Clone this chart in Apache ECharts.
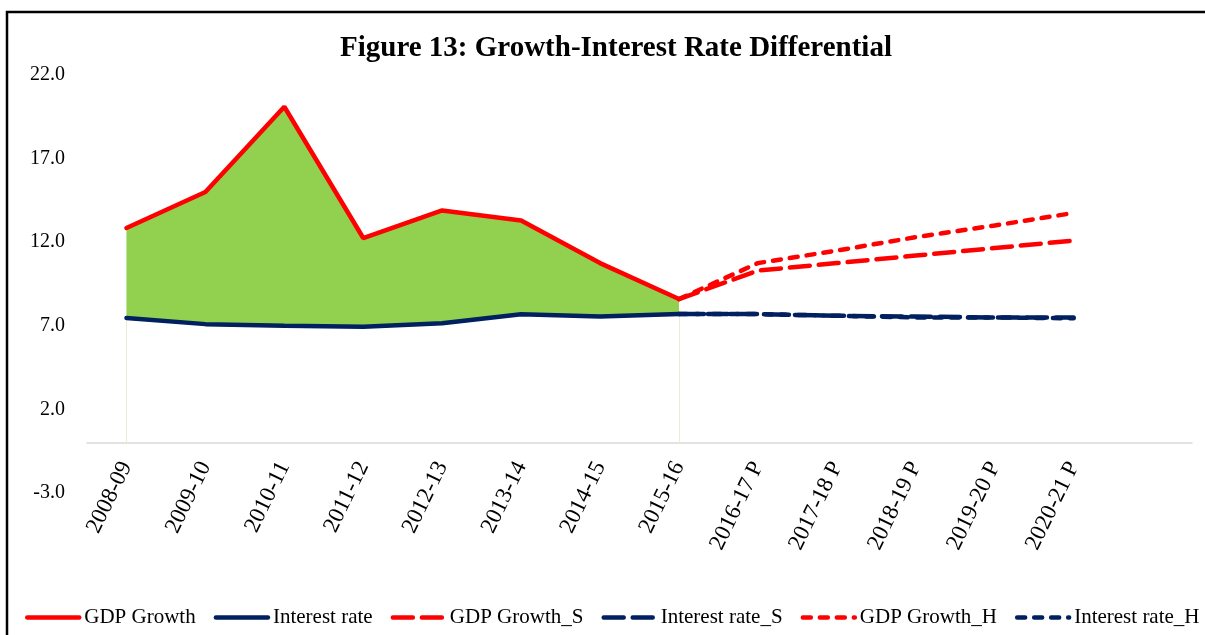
<!DOCTYPE html>
<html>
<head>
<meta charset="utf-8">
<title>Figure 13: Growth-Interest Rate Differential</title>
<script src="https://cdn.jsdelivr.net/npm/echarts@6/dist/echarts.min.js"></script>
<style>
    html, body { margin: 0; padding: 0; background: #fff; }
    #chart { width: 1205px; height: 635px; }
</style>
</head>
<body>
<div id="chart"></div>
<script>
// 数据
const years = ['2008-09', '2009-10', '2010-11', '2011-12', '2012-13', '2013-14', '2014-15',
    '2015-16', '2016-17 P', '2017-18 P', '2018-19 P', '2019-20 P', '2020-21 P', ''];
const gdpGrowth = [12.85, 15.0, 20.1, 12.25, 13.9, 13.3, 10.75, 8.6];
const interestRate = [7.47, 7.1, 7.0, 6.95, 7.15, 7.69, 7.55, 7.7];
const gdpGrowthS = [8.6, 10.3, 10.75, 11.2, 11.65, 12.1];
const interestRateS = [7.7, 7.7, 7.6, 7.55, 7.5, 7.5];
const gdpGrowthH = [8.6, 10.75, 11.5, 12.3, 13.0, 13.75];
const interestRateH = [7.7, 7.7, 7.6, 7.5, 7.5, 7.45];
const yTicks = [-3, 2, 7, 12, 17, 22];

const RED = '#ff0000';
const NAVY = '#002060';
const GREEN = '#92d050';
const FONT = '"Liberation Serif", "Times New Roman", serif';

const LONG_DASH = [20, 9];
const SHORT_DASH = [8, 9];

// 历史序列补齐到全部类目, 预测序列从2015-16开始
function history(arr) {
    return years.map((y, i) => i < arr.length ? arr[i] : null);
}
function projection(arr) {
    const start = gdpGrowth.length - 1;
    return years.map((y, i) => (i >= start && i - start < arr.length) ? arr[i - start] : null);
}

const diff = gdpGrowth.map((v, i) => +(v - interestRate[i]).toFixed(2));

function lineSeries(name, data, color, type) {
    return {
        name: name,
        type: 'line',
        data: data,
        symbol: 'none',
        connectNulls: false,
        lineStyle: { color: color, width: 4.5, type: type, cap: 'round' },
        itemStyle: { color: color },
        z: 5
    };
}

// 图例项: 只画线, 不画圆点
function legendItem(name, color, type) {
    return {
        name: name,
        itemStyle: { opacity: 0 },
        lineStyle: { color: color, width: 4.5, type: type, cap: 'round', opacity: 1 }
    };
}

const chart = echarts.init(document.getElementById('chart'));

const option = {
    animation: false,
    backgroundColor: '#fff',
    graphic: [{
        type: 'rect',
        shape: { x: 7, y: 12, width: 1215, height: 650 },
        style: { fill: 'none', stroke: '#000', lineWidth: 2.5 },
        silent: true,
        z: 100
    }],
    title: {
        text: 'Figure 13: Growth-Interest Rate Differential',
        left: 335,
        top: 29,
        textStyle: { fontFamily: FONT, fontSize: 29, fontWeight: 'bold', color: '#000' }
    },
    legend: {
        left: 20,
        top: 602,
        width: 1190,
        itemWidth: 52,
        itemHeight: 12,
        itemGap: 18,
        textStyle: { fontFamily: FONT, fontSize: 21, color: '#000' },
        data: [
            legendItem('GDP Growth', RED, 'solid'),
            legendItem('Interest rate', NAVY, 'solid'),
            legendItem('GDP Growth_S', RED, LONG_DASH),
            legendItem('Interest rate_S', NAVY, LONG_DASH),
            legendItem('GDP Growth_H', RED, SHORT_DASH),
            legendItem('Interest rate_H', NAVY, SHORT_DASH)
        ]
    },
    grid: { left: 87, right: 13, top: 75, bottom: 142, containLabel: false },
    xAxis: {
        type: 'category',
        data: years,
        boundaryGap: true,
        axisLine: { onZero: true, lineStyle: { color: '#d9d9d9', width: 1.5 } },
        axisTick: { show: false },
        axisLabel: {
            interval: 0,
            rotate: 64,
            margin: -30,
            fontFamily: FONT,
            fontSize: 23,
            color: '#000'
        },
        splitLine: { show: false }
    },
    yAxis: {
        type: 'value',
        min: yTicks[0],
        max: yTicks[yTicks.length - 1],
        interval: 5,
        axisLine: { show: false },
        axisTick: { show: false },
        splitLine: { show: false },
        axisLabel: {
            margin: 22,
            fontFamily: FONT,
            fontSize: 20,
            color: '#000',
            formatter: v => v.toFixed(1)
        }
    },
    series: [
        {
            name: 'base',
            type: 'line',
            stack: 'gap',
            data: history(interestRate),
            symbol: 'none',
            lineStyle: { width: 0 },
            silent: true,
            z: 1,
            markLine: {
                silent: true,
                symbol: 'none',
                label: { show: false },
                lineStyle: { color: '#e6ecd6', width: 1, type: 'solid' },
                data: [
                    [{ coord: [years[0], 0] }, { coord: [years[0], interestRate[0]] }],
                    [{ coord: [years[interestRate.length - 1], 0] },
                     { coord: [years[interestRate.length - 1], interestRate[interestRate.length - 1]] }]
                ]
            }
        },
        {
            name: 'differential',
            type: 'line',
            stack: 'gap',
            data: history(diff),
            symbol: 'none',
            lineStyle: { width: 0 },
            areaStyle: { color: GREEN, opacity: 1 },
            silent: true,
            z: 2
        },
        lineSeries('GDP Growth', history(gdpGrowth), RED, 'solid'),
        lineSeries('Interest rate', history(interestRate), NAVY, 'solid'),
        lineSeries('GDP Growth_S', projection(gdpGrowthS), RED, LONG_DASH),
        lineSeries('Interest rate_S', projection(interestRateS), NAVY, LONG_DASH),
        lineSeries('GDP Growth_H', projection(gdpGrowthH), RED, SHORT_DASH),
        lineSeries('Interest rate_H', projection(interestRateH), NAVY, SHORT_DASH)
    ]
};

chart.setOption(option);
</script>
</body>
</html>
